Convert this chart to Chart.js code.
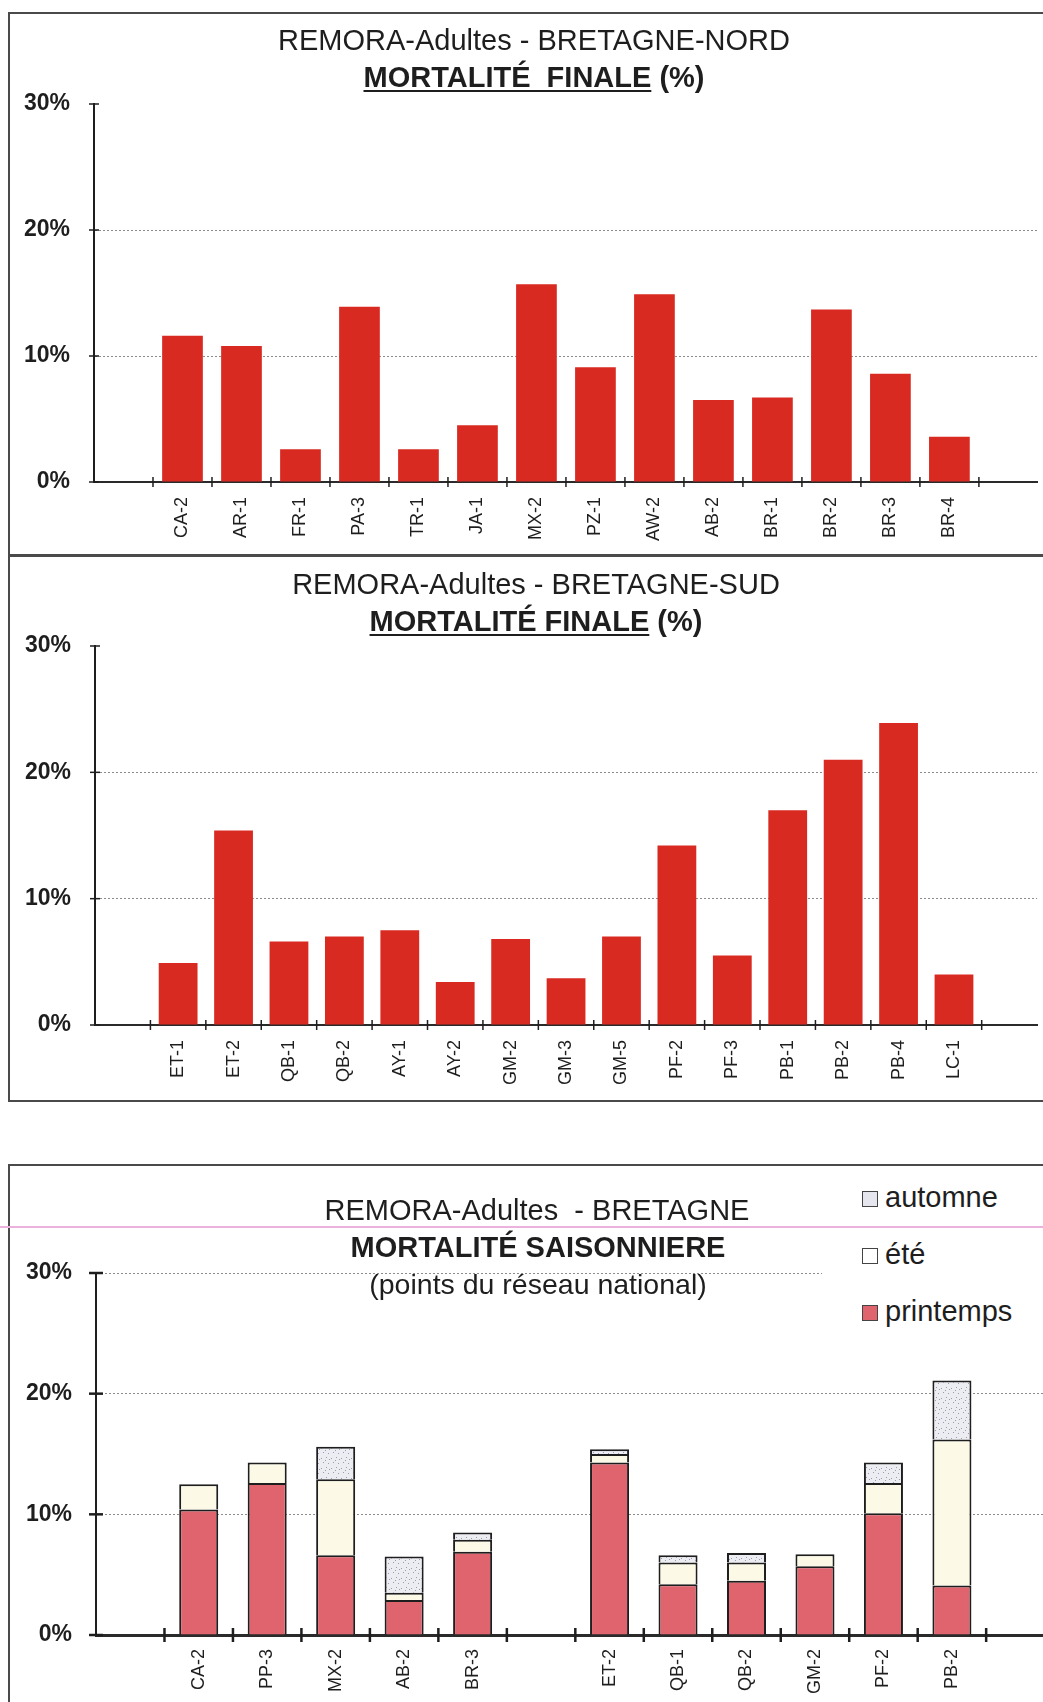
<!DOCTYPE html>
<html lang="fr">
<head>
<meta charset="UTF-8">
<title>REMORA-Adultes - Bretagne</title>
<script src="https://cdn.jsdelivr.net/npm/chart.js@4"></script>
<style>
  html, body { margin: 0; padding: 0; background: #fff; }
  body { width: 1043px; height: 1702px; overflow: hidden; position: relative;
         font-family: "Liberation Sans", Arial, sans-serif; color: #1e1e1e; }
  .box { position: absolute; left: 8px; width: 1100px; border: 2px solid #4a4a4a; border-right: none; }
  canvas { position: absolute; left: 0; }
  .t { position: absolute; transform: translateX(-50%); white-space: pre; font-size: 29px; line-height: 32px; }
  .b { font-weight: bold; }
  .u { text-decoration: underline; text-decoration-thickness: 2px; text-underline-offset: 3px; }
  #pink { position: absolute; left: 0; top: 1226px; width: 1043px; height: 2px; background: #eab2dc; z-index: 2; }
  #legend { position: absolute; left: 822px; top: 1176px; width: 221px; height: 160px; background: #fff; }
  .item { position: absolute; left: 63px; font-size: 29px; line-height: 30px; }
  .sw { position: absolute; left: -23px; top: 9px; width: 14px; height: 14px; border: 1.5px solid #444; }
</style>
</head>
<body>

<div class="box" style="top:12px; height:541px;"></div>
<div class="box" style="top:554px; height:544px;"></div>
<div class="box" style="top:1164px; height:600px;"></div>

<canvas id="nord" width="1045" height="560" style="top:0"></canvas>
<canvas id="sud" width="1046" height="546" style="top:556px"></canvas>
<canvas id="saison" width="1056" height="536" style="top:1166px"></canvas>

<div class="t" style="left:534px; top:24px;">REMORA-Adultes - BRETAGNE-NORD</div>
<div class="t b" style="left:534px; top:61px;"><span class="u">MORTALITÉ  FINALE</span> (%)</div>

<div class="t" style="left:536px; top:568px;">REMORA-Adultes - BRETAGNE-SUD</div>
<div class="t b" style="left:536px; top:605px;"><span class="u">MORTALITÉ FINALE</span> (%)</div>

<div id="pink"></div>
<div class="t" style="left:537px; top:1194px;">REMORA-Adultes  - BRETAGNE</div>
<div class="t b" style="left:538px; top:1231px;">MORTALITÉ SAISONNIERE</div>
<div class="t" style="left:538px; top:1268px; font-size:28.5px;">(points du réseau national)</div>
<div id="legend"></div>

<script>
// --- data (%)
const nordLabels = ['CA-2', 'AR-1', 'FR-1', 'PA-3', 'TR-1', 'JA-1', 'MX-2', 'PZ-1', 'AW-2', 'AB-2', 'BR-1', 'BR-2', 'BR-3', 'BR-4'];
const nordValues = [11.6, 10.8, 2.6, 13.9, 2.6, 4.5, 15.7, 9.1, 14.9, 6.5, 6.7, 13.7, 8.6, 3.6];

const sudLabels = ['ET-1', 'ET-2', 'QB-1', 'QB-2', 'AY-1', 'AY-2', 'GM-2', 'GM-3', 'GM-5', 'PF-2', 'PF-3', 'PB-1', 'PB-2', 'PB-4', 'LC-1'];
const sudValues = [4.9, 15.4, 6.6, 7.0, 7.5, 3.4, 6.8, 3.7, 7.0, 14.2, 5.5, 17.0, 21.0, 23.9, 4.0];

// seasonal chart: blank slots are gaps on the axis
const saisonLabels = ['', 'CA-2', 'PP-3', 'MX-2', 'AB-2', 'BR-3', '', 'ET-2', 'QB-1', 'QB-2', 'GM-2', 'PF-2', 'PB-2', ''];
const printemps = [null, 10.4, 12.6, 6.6, 2.9, 6.9, null, 14.3, 4.2, 4.5, 5.7, 10.1, 4.1, null];
const ete       = [null, 2.1, 1.7, 6.3, 0.6, 1.0, null, 0.7, 1.8, 1.5, 1.0, 2.5, 12.1, null];
const automne   = [null, 0, 0, 2.7, 3.0, 0.6, null, 0.4, 0.6, 0.8, 0, 1.7, 4.9, null];

const yTicks = [0, 10, 20, 30];

const RED = '#d92a22';
const PINK = '#e0646e';
const CREAM = '#fcfae6';

// speckled fill used for "automne"
function speckle() {
    const c = document.createElement('canvas');
    c.width = 10; c.height = 10;
    const g = c.getContext('2d');
    g.fillStyle = '#ececf3';
    g.fillRect(0, 0, 10, 10);
    g.fillStyle = '#9c9caa';
    [[1, 2], [6, 1], [3, 6], [8, 7], [5, 4], [9, 3]].forEach(p => g.fillRect(p[0], p[1], 1, 1));
    return g.createPattern(c, 'repeat');
}

// ticks that cross the axes, like the original
const crossTicks = {
    id: 'crossTicks',
    afterDatasetsDraw(chart, args, opts) {
        const { ctx, chartArea, scales: { x, y } } = chart;
        ctx.save();
        ctx.strokeStyle = opts.color;
        ctx.lineWidth = opts.width;
        y.ticks.forEach((t, i) => {
            const py = y.getPixelForTick(i);
            ctx.beginPath();
            ctx.moveTo(chartArea.left - opts.len, py);
            ctx.lineTo(chartArea.left + opts.len, py);
            ctx.stroke();
        });
        const step = x.getPixelForValue(1) - x.getPixelForValue(0);
        for (let i = 1; i < x.ticks.length; i++) {
            const px = x.getPixelForValue(i) - step / 2;
            ctx.beginPath();
            ctx.moveTo(px, chartArea.bottom - opts.len);
            ctx.lineTo(px, chartArea.bottom + opts.len);
            ctx.stroke();
        }
        ctx.restore();
    }
};

function makeOptions(cfg) {
    return {
        responsive: false,
        animation: false,
        layout: { padding: { top: cfg.top, left: 0, right: 0, bottom: 0 } },
        plugins: {
            legend: { display: false },
            tooltip: { enabled: false },
            crossTicks: { color: '#1e1e1e', width: cfg.tickWidth, len: cfg.tickLen }
        },
        scales: {
            x: {
                stacked: !!cfg.stacked,
                afterFit: s => { s.height = cfg.xHeight; },
                grid: { display: true, drawOnChartArea: false, drawTicks: false },
                border: { color: '#2a2a2a', width: cfg.xAxisWidth },
                ticks: {
                    autoSkip: false, minRotation: 90, maxRotation: 90, padding: cfg.labelPad,
                    color: '#1e1e1e', font: { family: '"Liberation Sans", Arial, sans-serif', size: 18 }
                }
            },
            y: {
                stacked: !!cfg.stacked,
                min: 0, max: 30,
                afterFit: s => { s.width = cfg.yWidth; },
                afterBuildTicks: s => { s.ticks = yTicks.map(v => ({ value: v })); },
                grid: {
                    drawTicks: false,
                    color: c => (c.tick && cfg.gridAt.includes(c.tick.value)) ? '#8c8c8c' : 'rgba(0,0,0,0)',
                    lineWidth: 1
                },
                border: { color: '#1e1e1e', width: 2, dash: [2, 2] },
                ticks: {
                    padding: 24, color: '#1e1e1e',
                    font: { family: '"Liberation Sans", Arial, sans-serif', size: 23, weight: 'bold' },
                    callback: v => v + '%'
                }
            }
        }
    };
}

// Bretagne-Nord
new Chart(document.getElementById('nord'), {
    type: 'bar',
    data: {
        labels: [''].concat(nordLabels, ['']),
        datasets: [{
            data: [null].concat(nordValues, [null]),
            backgroundColor: RED,
            barPercentage: 0.69,
            categoryPercentage: 1
        }]
    },
    options: makeOptions({ top: 104, xHeight: 78, yWidth: 94, labelPad: 15, gridAt: [10, 20],
                           tickWidth: 1.5, tickLen: 5, xAxisWidth: 2 }),
    plugins: [crossTicks]
});

// Bretagne-Sud
new Chart(document.getElementById('sud'), {
    type: 'bar',
    data: {
        labels: [''].concat(sudLabels, ['']),
        datasets: [{
            data: [null].concat(sudValues, [null]),
            backgroundColor: RED,
            barPercentage: 0.70,
            categoryPercentage: 1
        }]
    },
    options: makeOptions({ top: 90, xHeight: 77, yWidth: 95, labelPad: 15, gridAt: [10, 20],
                           tickWidth: 1.5, tickLen: 5, xAxisWidth: 2 }),
    plugins: [crossTicks]
});

// Mortalité saisonnière
const seasons = [
    { label: 'printemps', data: printemps, color: PINK },
    { label: 'été', data: ete, color: CREAM },
    { label: 'automne', data: automne, color: speckle() }
];

new Chart(document.getElementById('saison'), {
    type: 'bar',
    data: {
        labels: saisonLabels,
        datasets: seasons.map(s => ({
            label: s.label,
            data: s.data,
            backgroundColor: s.color,
            borderColor: '#1e1e1e',
            borderWidth: 2,
            barPercentage: 0.57,
            categoryPercentage: 1
        }))
    },
    options: makeOptions({ top: 107, xHeight: 67, yWidth: 96, labelPad: 14, gridAt: [10, 20, 30],
                           stacked: true, tickWidth: 2.5, tickLen: 7, xAxisWidth: 3 }),
    plugins: [crossTicks]
});

// legend, top to bottom: automne, été, printemps
const legend = document.getElementById('legend');
const swatch = { 'printemps': PINK, 'été': '#ffffff', 'automne': '#e6e6ee' };
seasons.slice().reverse().forEach((s, i) => {
    const it = document.createElement('div');
    it.className = 'item';
    it.style.top = (6 + i * 57) + 'px';
    it.innerHTML = '<span class="sw" style="background:' + swatch[s.label] + '"></span>' + s.label;
    legend.appendChild(it);
});
</script>
</body>
</html>
